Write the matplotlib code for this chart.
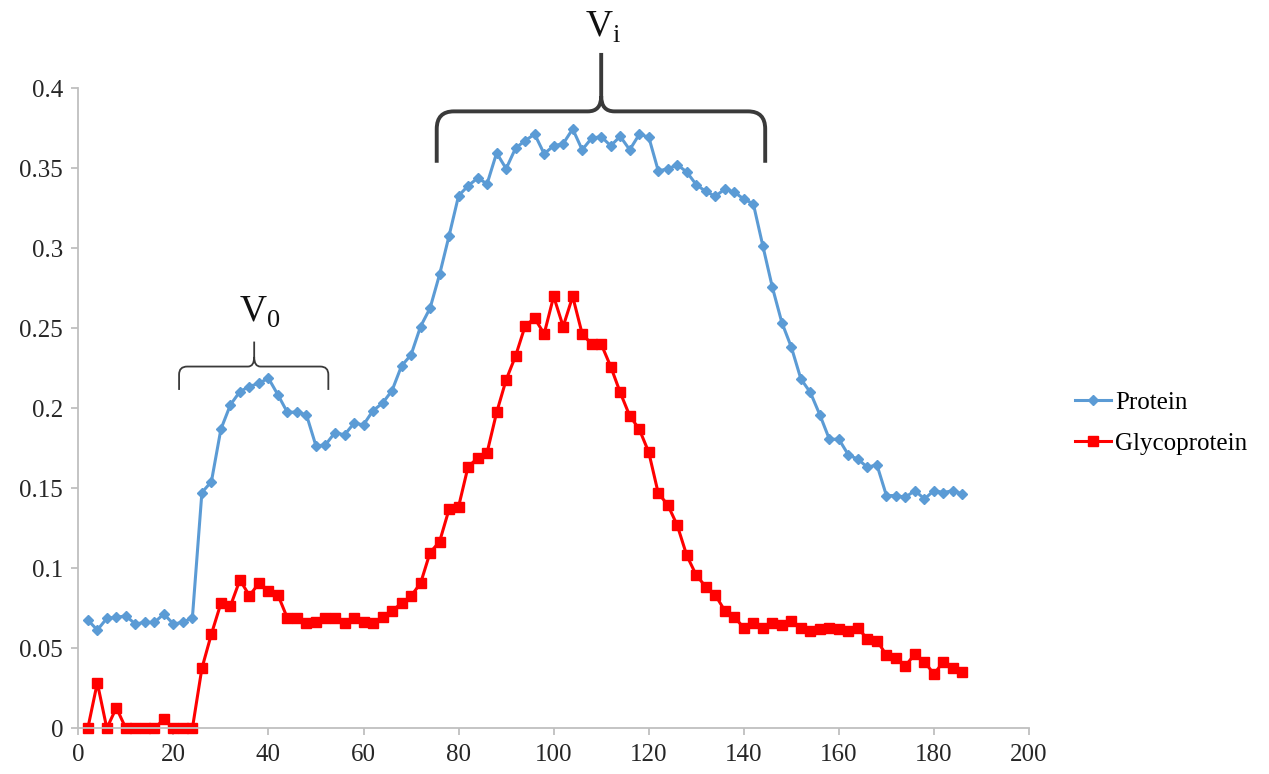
import numpy as np
import matplotlib.pyplot as plt
from matplotlib.path import Path
from matplotlib.patches import PathPatch

plt.rcParams['font.family'] = ['Liberation Serif', 'DejaVu Serif']
plt.rcParams['mathtext.fontset'] = 'custom'
plt.rcParams['mathtext.rm'] = 'Liberation Serif'

# fraction number
fractions = np.arange(2, 188, 2)

protein = [0.0677, 0.0614, 0.0687, 0.0694, 0.0702, 0.0652, 0.0662, 0.0662, 0.0714, 0.0652,
           0.0662, 0.0691, 0.1473, 0.1541, 0.1869, 0.2021, 0.2104, 0.2135, 0.2156, 0.2187,
           0.2083, 0.1973, 0.1977, 0.1958, 0.1764, 0.1771, 0.1848, 0.1833, 0.1906, 0.1896,
           0.1985, 0.2031, 0.2110, 0.2264, 0.2333, 0.2510, 0.2625, 0.2835, 0.3077, 0.3327,
           0.3389, 0.3437, 0.3402, 0.3594, 0.3496, 0.3625, 0.3671, 0.3712, 0.3589, 0.3639,
           0.3652, 0.3744, 0.3614, 0.3687, 0.3696, 0.3639, 0.3698, 0.3614, 0.3710, 0.3694,
           0.3483, 0.3494, 0.3521, 0.3475, 0.3396, 0.3354, 0.3323, 0.3369, 0.3350, 0.3306,
           0.3277, 0.3014, 0.2756, 0.2535, 0.2381, 0.2183, 0.2098, 0.1958, 0.1806, 0.1806,
           0.1708, 0.1681, 0.1631, 0.1646, 0.1454, 0.1454, 0.1444, 0.1485, 0.1433, 0.1485,
           0.1473, 0.1485, 0.1464]

glycoprotein = [0.0, 0.0285, 0.0, 0.0129, 0.0, 0.0, 0.0, 0.0, 0.0056, 0.0,
                0.0, 0.0, 0.0375, 0.0589, 0.0781, 0.0764, 0.0927, 0.0829, 0.0906, 0.0860,
                0.0833, 0.0687, 0.0687, 0.0656, 0.0666, 0.0687, 0.0687, 0.0656, 0.0687, 0.0666,
                0.0656, 0.0698, 0.0735, 0.0781, 0.0827, 0.0906, 0.1098, 0.1166, 0.1369, 0.1385,
                0.1635, 0.1687, 0.1723, 0.1973, 0.2177, 0.2327, 0.2514, 0.2562, 0.2464, 0.2698,
                0.2510, 0.2698, 0.2464, 0.2400, 0.2400, 0.2260, 0.2098, 0.1952, 0.1869, 0.1725,
                0.1469, 0.1396, 0.1268, 0.1080, 0.0956, 0.0885, 0.0833, 0.0735, 0.0694, 0.0629,
                0.0660, 0.0629, 0.0660, 0.0646, 0.0671, 0.0629, 0.0608, 0.0619, 0.0629, 0.0619,
                0.0608, 0.0629, 0.0556, 0.0548, 0.0458, 0.0441, 0.0391, 0.0464, 0.0416, 0.0339,
                0.0416, 0.0375, 0.0354]

x_ticks = [0, 20, 40, 60, 80, 100, 120, 140, 160, 180, 200]
y_ticks = [0, 0.05, 0.1, 0.15, 0.2, 0.25, 0.3, 0.35, 0.4]
y_labels = ['0', '0.05', '0.1', '0.15', '0.2', '0.25', '0.3', '0.35', '0.4']


def brace(ax, x0, x1, xm, ybot, ymid, ytop, rx, ry, rxm, rym, lw):
    # curly bracket: two rounded ends and a pointed centre
    verts = [(x0, ybot), (x0, ymid - ry), (x0, ymid), (x0 + rx, ymid),
             (xm - rxm, ymid), (xm, ymid), (xm, ymid + rym), (xm, ytop),
             (xm, ymid + rym), (xm, ymid), (xm + rxm, ymid),
             (x1 - rx, ymid), (x1, ymid), (x1, ymid - ry), (x1, ybot)]
    codes = [Path.MOVETO, Path.LINETO, Path.CURVE3, Path.CURVE3,
             Path.LINETO, Path.CURVE3, Path.CURVE3, Path.LINETO,
             Path.MOVETO, Path.CURVE3, Path.CURVE3,
             Path.LINETO, Path.CURVE3, Path.CURVE3, Path.LINETO]
    ax.add_patch(PathPatch(Path(verts, codes), fill=False, edgecolor='#3a3a3a',
                           lw=lw, clip_on=False, capstyle='butt', joinstyle='round'))


fig = plt.figure(figsize=(12.69, 7.74), dpi=100)
ax = fig.add_axes([0.0617, 0.0590, 0.7492, 0.8273])

ax.plot(fractions, protein, color='#5B9BD5', lw=2.2, marker='D', ms=5.5,
        mec='#5B9BD5', mfc='#5B9BD5', label='Protein', clip_on=False)
ax.plot(fractions, glycoprotein, color='#FF0000', lw=2.2, marker='s', ms=7,
        mec='#FF0000', mfc='#FF0000', label='Glycoprotein', clip_on=False)

ax.set_xlim(0, 200)
ax.set_ylim(0, 0.4)
ax.set_xticks(x_ticks)
ax.set_yticks(y_ticks)
ax.set_yticklabels(y_labels)

for s in ['top', 'right']:
    ax.spines[s].set_visible(False)
for s in ['left', 'bottom']:
    ax.spines[s].set_color('#BFBFBF')
    ax.spines[s].set_linewidth(1.3)
ax.tick_params(axis='both', colors='#BFBFBF', labelcolor='#262626',
               labelsize=18, length=5, width=1.3, direction='out')
ax.tick_params(axis='x', pad=6)
ax.tick_params(axis='y', pad=6)

# V0 and Vi brackets
brace(ax, 21.2, 52.6, 37.0, 0.2114, 0.226, 0.2416,
      1.7, 0.005, 1.3, 0.006, 1.3)
brace(ax, 75.4, 144.5, 110.0, 0.3533, 0.3854, 0.4219,
      3.6, 0.011, 2.8, 0.0095, 2.8)
ax.text(38.2, 0.2596, r'V$_{\mathrm{0}}$', fontsize=27, ha='center', va='center', color='#111111')
ax.text(110.4, 0.4380, r'V$_{\mathrm{i}}$', fontsize=27, ha='center', va='center',
        color='#111111', clip_on=False)

ax.legend(loc='center left', bbox_to_anchor=(1075 / 1269, 1 - 423 / 774),
          bbox_transform=fig.transFigure, frameon=False, fontsize=18,
          handlelength=1.45, handletextpad=0.15, labelspacing=0.75,
          borderaxespad=0, borderpad=0)

fig.savefig('out.png', dpi=100)
